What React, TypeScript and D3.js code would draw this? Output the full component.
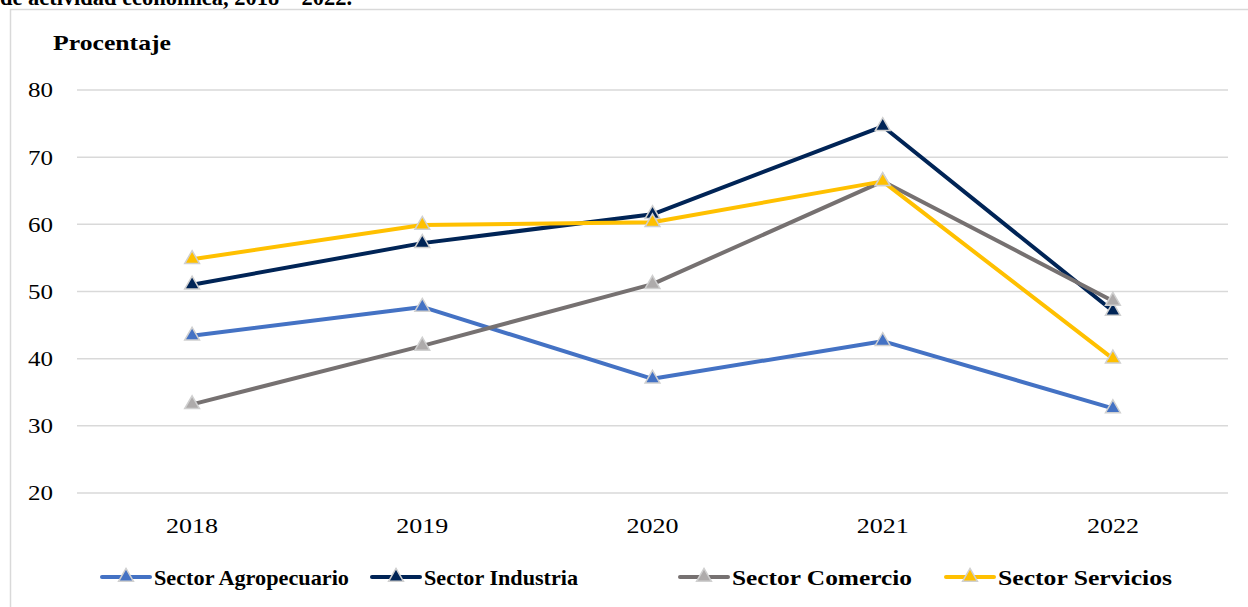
import * as d3 from 'd3';
import React from 'react';

const years = ['2018', '2019', '2020', '2021', '2022'];
const agropecuario = [43.4, 47.7, 37.0, 42.6, 32.6];
const industria = [51.0, 57.2, 61.5, 74.6, 47.1];
const comercio = [33.2, 41.9, 51.1, 66.4, 48.6];
const servicios = [54.8, 59.9, 60.3, 66.4, 40.0];
const yTicks = [20, 30, 40, 50, 60, 70, 80];

const series = [
  { name: 'Sector Agropecuario', values: agropecuario, color: '#4472C4', marker: '#4472C4' },
  { name: 'Sector Industria', values: industria, color: '#002456', marker: '#002456' },
  { name: 'Sector Comercio', values: comercio, color: '#767171', marker: '#AEABAB' },
  { name: 'Sector Servicios', values: servicios, color: '#FFC000', marker: '#FFC000' },
];

// legend layout (x of swatch start, text width)
const legendX = [102, 372, 680, 946];
const legendW = [195, 154, 180, 174];

const W = 1248;
const H = 607;
const font = "'Liberation Serif', 'Times New Roman', serif";

const App: React.FC = () => {
  const x = d3.scaleBand().domain(years).range([77, 1228]);
  const y = d3.scaleLinear().domain([20, 80]).range([493, 90]);
  const cx = (i: number) => (x(years[i]) as number) + x.bandwidth() / 2;
  const line = d3
    .line<number>()
    .x((_, i) => cx(i))
    .y((d) => y(d));
  const tri = d3.symbol().type(d3.symbolTriangle).size(95)() as string;

  return (
    <svg
      width={W}
      height={H}
      style={{ position: 'absolute', left: 0, top: 0, background: 'white' }}
      fontFamily={font}
    >
      <text x={0} y={5} fontSize={24} fontWeight='bold' textLength={352} lengthAdjust='spacingAndGlyphs'>
        de actividad económica, 2018 – 2022.
      </text>
      <path d={`M10.5,${H} V9.5 H${W}`} fill='none' stroke='#D9D9D9' strokeWidth={1.5} />
      <text x={53} y={50} fontSize={22} fontWeight='bold' textLength={118} lengthAdjust='spacingAndGlyphs'>
        Procentaje
      </text>
      <g>
        {yTicks.map((t) => (
          <g key={t}>
            <line x1={77} x2={1228} y1={y(t)} y2={y(t)} stroke='#D9D9D9' strokeWidth={1.5} />
            <text
              x={28}
              y={y(t)}
              dy='0.35em'
              fontSize={21}
              textLength={25}
              lengthAdjust='spacingAndGlyphs'
            >
              {t}
            </text>
          </g>
        ))}
        {years.map((yr, i) => (
          <text
            key={yr}
            x={cx(i) - 26}
            y={533}
            fontSize={21}
            textLength={52}
            lengthAdjust='spacingAndGlyphs'
          >
            {yr}
          </text>
        ))}
      </g>
      {series.map((s) => (
        <g key={s.name}>
          <path d={line(s.values) as string} fill='none' stroke={s.color} strokeWidth={4} strokeLinejoin='round' />
          {s.values.map((v, i) => (
            <path
              key={i}
              d={tri}
              transform={`translate(${cx(i)},${y(v)})`}
              fill={s.marker}
              stroke='#D0D0D0'
              strokeWidth={1.5}
            />
          ))}
        </g>
      ))}
      {series.map((s, i) => (
        <g key={s.name} transform={`translate(${legendX[i]},577)`}>
          <line x1={0} x2={48} y1={0} y2={0} stroke={s.color} strokeWidth={4} strokeLinecap='round' />
          <path d={tri} transform='translate(24,0)' fill={s.marker} stroke='#D0D0D0' strokeWidth={1.5} />
          <text
            x={52}
            y={0}
            dy='0.35em'
            fontSize={22}
            fontWeight='bold'
            textLength={legendW[i]}
            lengthAdjust='spacingAndGlyphs'
          >
            {s.name}
          </text>
        </g>
      ))}
    </svg>
  );
};

export default App;
